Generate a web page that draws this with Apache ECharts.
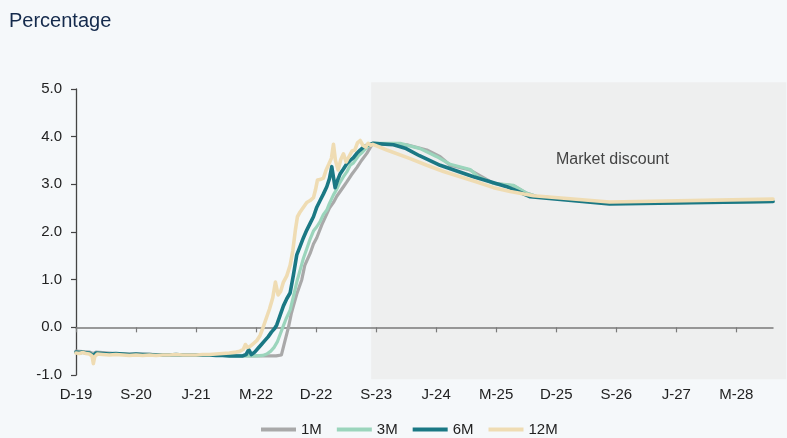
<!DOCTYPE html>
<html>
<head>
<meta charset="utf-8">
<script src="https://cdn.jsdelivr.net/npm/echarts@6/dist/echarts.min.js"></script>
<style>
  html, body { margin: 0; padding: 0; background: #f5f8fa; }
  #chart { width: 787px; height: 438px; }
</style>
</head>
<body>
<div id="chart"></div>
<script>
// Interbank rates, x = months since December 2019, y = percent.
const tickLabels = ['D-19', 'S-20', 'J-21', 'M-22', 'D-22', 'S-23', 'J-24', 'M-25', 'D-25', 'S-26', 'J-27', 'M-28'];
const tickMonths = [0, 9, 18, 27, 36, 45, 54, 63, 72, 81, 90, 99];
const axisEndMonth = 104.5;

// Market-discount period (shaded)
const discountStart = 44.25;
const discountEnd = 106.5;
const discountTop = 5.14;
const discountBottom = -1.09;

const rate1M = [
  [0,-0.50],[1,-0.51],[2,-0.52],[2.6,-0.55],[3,-0.52],[4,-0.53],[5,-0.54],[6,-0.55],[8,-0.56],[10,-0.56],
  [12,-0.57],[14,-0.57],[16,-0.58],[18,-0.58],[20,-0.58],[22,-0.58],[24,-0.59],[26,-0.60],[28,-0.60],
  [29,-0.60],[30,-0.60],[30.8,-0.58],[31.3,-0.30],[31.85,0.00],[32.3,0.30],[32.6,0.45],[33.1,0.70],
  [33.85,1.00],[34.3,1.30],[35.1,1.55],[35.6,1.75],[36.1,1.88],[36.85,2.15],[37.5,2.35],[38.0,2.50],
  [38.6,2.62],[39.1,2.75],[39.6,2.85],[40.1,2.95],[40.6,3.05],[41.3,3.20],[42.1,3.35],[42.8,3.50],
  [43.6,3.65],[44.2,3.79],[44.5,3.86],
  [49.6,3.83],[52.6,3.72],[54.6,3.58],[56.1,3.40],[59.1,3.30],[62.6,3.02],[65.6,2.97],[67.6,2.81],
  [69,2.75],[80,2.60],[104.5,2.64]
];

const rate3M = [
  [0,-0.53],[1,-0.52],[2,-0.54],[2.6,-0.58],[3,-0.54],[4,-0.55],[5,-0.56],[6,-0.56],[8,-0.57],[10,-0.57],
  [12,-0.58],[14,-0.58],[16,-0.58],[18,-0.58],[20,-0.59],[22,-0.59],[24,-0.60],[26,-0.60],[27,-0.60],
  [28,-0.59],[28.6,-0.56],[29.2,-0.50],[29.7,-0.42],[30.2,-0.30],[30.6,-0.15],[31.0,0.00],[31.5,0.18],
  [32.1,0.36],[32.6,0.65],[33.1,0.95],[33.6,1.20],[34.1,1.45],[34.6,1.65],[35.1,1.85],[35.6,2.02],
  [36.1,2.11],[36.6,2.22],[37.1,2.37],[37.6,2.46],[38.0,2.60],[38.6,2.78],[39.1,2.90],[39.5,3.02],
  [40.1,3.16],[40.6,3.26],[41.1,3.40],[41.6,3.45],[42.35,3.60],[42.85,3.66],[43.6,3.78],[44.2,3.84],
  [44.5,3.86],
  [48.6,3.86],[51.6,3.75],[54.1,3.58],[56.1,3.42],[59.1,3.31],[60.3,3.16],[62.6,3.02],[65.6,2.98],
  [67.6,2.81],[69,2.75],[80,2.60],[104.5,2.64]
];

const rate6M = [
  [0,-0.52],[0.5,-0.53],[1,-0.52],[1.5,-0.54],[2,-0.54],[2.6,-0.60],[3,-0.54],[4,-0.55],[5,-0.56],
  [6,-0.55],[7,-0.56],[8,-0.57],[9,-0.56],[10,-0.57],[11,-0.57],[12,-0.58],[13,-0.58],[14,-0.58],
  [15,-0.57],[16,-0.58],[17,-0.58],[18,-0.58],[19,-0.58],[20,-0.58],[21,-0.59],[22,-0.59],[23,-0.60],
  [24,-0.60],[25,-0.60],[25.5,-0.57],[25.9,-0.47],[26.3,-0.57],[26.8,-0.52],[27.3,-0.44],[27.8,-0.36],
  [28.3,-0.28],[28.8,-0.20],[29.3,-0.10],[29.8,-0.02],[30.1,0.05],[30.6,0.25],[31.1,0.45],[31.6,0.60],
  [32.1,0.72],[32.6,1.10],[33.1,1.52],[33.6,1.70],[34.1,1.88],[34.6,2.04],[35.1,2.18],[35.6,2.32],
  [36.1,2.52],[36.6,2.66],[37.1,2.80],[37.6,2.95],[38.0,3.12],[38.35,3.37],[38.85,2.93],[39.2,3.08],
  [39.6,3.22],[40.1,3.32],[40.6,3.43],[41.1,3.50],[41.6,3.56],[42.1,3.65],[42.6,3.72],[43.1,3.78],
  [43.6,3.82],[44.2,3.84],[44.5,3.86],
  [47.6,3.83],[49.5,3.75],[51.5,3.60],[54.6,3.40],[59.6,3.16],[64.6,2.95],[68.1,2.74],[80,2.59],
  [104.5,2.64]
];

const rate12M = [
  [0,-0.54],[0.5,-0.55],[1,-0.53],[1.5,-0.55],[2,-0.56],[2.4,-0.60],[2.6,-0.76],[2.8,-0.62],[3.2,-0.56],
  [4,-0.57],[5,-0.58],[6,-0.57],[7,-0.58],[8,-0.59],[9,-0.58],[10,-0.59],[11,-0.58],[12,-0.59],
  [13,-0.58],[14,-0.58],[15,-0.57],[16,-0.58],[17,-0.58],[18,-0.58],[19,-0.57],[20,-0.57],[21,-0.56],
  [22,-0.55],[23,-0.54],[24,-0.52],[24.6,-0.50],[25.1,-0.46],[25.4,-0.36],[25.7,-0.42],[26.1,-0.40],
  [26.6,-0.34],[27.1,-0.28],[27.6,-0.17],[28.0,-0.02],[28.5,0.18],[29.0,0.38],[29.5,0.62],[29.9,0.95],
  [30.3,0.68],[30.7,0.76],[31.1,0.95],[31.6,1.08],[32.1,1.30],[32.5,1.60],[32.9,2.05],[33.2,2.32],
  [33.6,2.42],[34.1,2.52],[34.6,2.62],[35.1,2.66],[35.6,2.72],[35.9,2.88],[36.2,3.09],[36.6,3.10],
  [37.1,3.13],[37.5,3.30],[37.9,3.42],[38.3,3.55],[38.6,3.84],[38.9,3.50],[39.3,3.30],[39.7,3.52],
  [40.1,3.64],[40.5,3.47],[41.0,3.60],[41.4,3.70],[41.8,3.72],[42.2,3.87],[42.6,3.92],[43.0,3.82],
  [43.4,3.78],[43.8,3.86],[44.2,3.82],[44.5,3.84],
  [46.6,3.72],[50.1,3.54],[52.6,3.40],[55.1,3.27],[57.6,3.16],[60.1,3.05],[62.6,2.93],[65.1,2.85],
  [68.6,2.76],[80,2.63],[104.5,2.69]
];

const seriesNames = ['1M', '3M', '6M', '12M'];
const seriesData = [rate1M, rate3M, rate6M, rate12M];
const seriesColors = ['#a9a9a9', '#9bd5bc', '#1a7884', '#efdcb3'];
const seriesWidths = [3.2, 3.2, 3.6, 3.6];

const FONT = '"Liberation Sans", Arial, sans-serif';
const tickLabelOf = v => {
  const i = tickMonths.indexOf(v);
  return i >= 0 ? tickLabels[i] : '';
};

const chart = echarts.init(document.getElementById('chart'), null, { renderer: 'canvas' });

chart.setOption({
  backgroundColor: '#f5f8fa',
  animation: false,
  textStyle: { fontFamily: FONT },
  title: {
    text: 'Percentage',
    left: 4,
    top: 6,
    textStyle: { fontSize: 20, fontWeight: 'normal', color: '#142a4c', fontFamily: FONT }
  },
  legend: {
    data: seriesNames,
    left: 261,
    top: 420,
    icon: 'rect',
    itemWidth: 35,
    itemHeight: 4,
    itemGap: 15,
    padding: [2, 5, 2, 0],
    textStyle: { fontSize: 15, color: '#222', fontFamily: FONT }
  },
  grid: { left: 76, right: 14, top: 89, bottom: 63, containLabel: false },
  xAxis: [
    {
      type: 'value',
      min: 0,
      max: axisEndMonth,
      interval: 9,
      axisLine: { onZero: true, lineStyle: { color: '#7a7a7a', width: 1.5 } },
      axisTick: { show: true, length: 5, customValues: tickMonths, lineStyle: { color: '#7a7a7a', width: 1.2 } },
      axisLabel: { show: false },
      splitLine: { show: false }
    },
    {
      type: 'value',
      position: 'bottom',
      min: 0,
      max: axisEndMonth,
      interval: 9,
      axisLine: { show: false, onZero: false },
      axisTick: { show: false },
      axisLabel: {
        show: true,
        margin: 12,
        fontSize: 15,
        color: '#222',
        fontFamily: FONT,
        customValues: tickMonths,
        formatter: tickLabelOf
      },
      splitLine: { show: false }
    }
  ],
  yAxis: {
    type: 'value',
    min: -1,
    max: 5,
    interval: 1,
    axisLine: { show: true, lineStyle: { color: '#444', width: 1.3 } },
    axisTick: { show: true, length: 5, lineStyle: { color: '#444', width: 1.2 } },
    axisLabel: {
      margin: 14,
      fontSize: 15,
      color: '#222',
      fontFamily: FONT,
      formatter: v => v.toFixed(1)
    },
    splitLine: { show: false }
  },
  series: seriesNames.map((name, i) => ({
    name,
    type: 'line',
    xAxisIndex: 0,
    yAxisIndex: 0,
    data: seriesData[i],
    symbol: 'none',
    smooth: false,
    color: seriesColors[i],
    lineStyle: { color: seriesColors[i], width: seriesWidths[i], join: 'round', cap: 'round' },
    z: 3 + i
  }))
});

// Shaded market-discount period, placed through the axis scales
const topLeft = chart.convertToPixel({ gridIndex: 0 }, [discountStart, discountTop]);
const bottomRight = chart.convertToPixel({ gridIndex: 0 }, [discountEnd, discountBottom]);

chart.setOption({
  graphic: [
    {
      type: 'rect',
      z: -10,
      silent: true,
      shape: {
        x: topLeft[0],
        y: topLeft[1],
        width: bottomRight[0] - topLeft[0],
        height: bottomRight[1] - topLeft[1]
      },
      style: { fill: '#eeefef' }
    },
    {
      type: 'text',
      z: -5,
      silent: true,
      left: 556,
      top: 152,
      style: { text: 'Market discount', fontSize: 16, fill: '#444', fontFamily: FONT }
    }
  ]
});
</script>
</body>
</html>
